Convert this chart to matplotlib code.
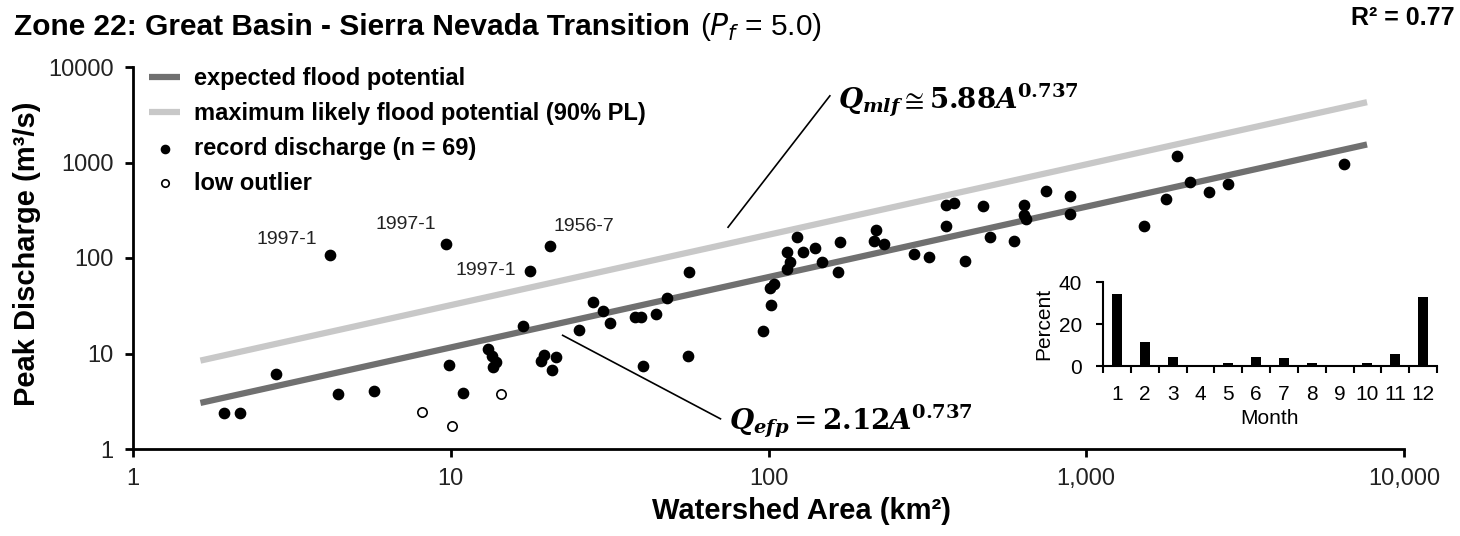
import numpy as np
import matplotlib.pyplot as plt
from matplotlib.ticker import FixedLocator, FixedFormatter, NullLocator

plt.rcParams['font.family'] = ['Liberation Sans', 'DejaVu Sans']

# record discharges
area_km2 = [1.93, 2.17, 2.82, 4.17, 4.43, 5.74, 9.64, 9.9, 10.9, 13.1, 13.5, 13.9, 13.6,
            17.8, 20.5, 16.9, 19.7, 19.3, 21.4, 20.9,
            25.4, 28.0, 30.1, 31.6, 37.9, 39.6, 44.4, 48.0, 40.3, 56.3, 56.0, 95.8, 102, 101, 104,
            114.5, 117, 114.5, 123, 128.5, 140, 147.6, 165, 167.6, 215, 218.5, 230.6, 287, 320,
            363, 363, 383, 415, 472, 499,
            591, 635, 635, 646, 749, 887, 887, 1525, 1785, 1929, 2124, 2431, 2790, 6488]
peak_m3s = [2.38, 2.38, 6.1, 107, 3.8, 4.08, 141, 7.6, 3.9, 11.1, 9.5, 8.1, 7.3,
            73.5, 135, 19.4, 9.76, 8.4, 9.1, 6.7,
            17.8, 34.4, 27.7, 21.0, 24.1, 24.1, 26.2, 37.9, 7.4, 70.7, 9.45, 17.2, 32.5, 48.7, 52.9,
            76.6, 90, 115, 166, 115, 127, 90.8, 71, 147, 152, 198.6, 140, 111, 101.6,
            217, 355, 377, 93, 350, 166,
            150, 355, 284, 255, 507, 442, 286, 217, 415, 1156, 621, 495, 591, 976]

outlier_area = [8.1, 10.1, 14.4]
outlier_peak = [2.45, 1.75, 3.8]

# labelled events: (area, peak, label)
event_area = [4.17, 9.64, 17.8, 20.5]
event_peak = [107, 141, 73.5, 135]
event_label = ['1997-1', '1997-1', '1997-1', '1956-7']

# envelope curves
coef_efp = 2.12
coef_mlf = 5.88
exponent = 0.737
curve_range = [1.63, 7650]

# monthly distribution (inset)
months = list(range(1, 13))
month_pct = [34.3, 11.3, 4.3, 0, 1.2, 4.4, 3.6, 1.2, 0, 1.2, 5.5, 33.0]

fig = plt.figure(figsize=(14.6, 5.36), dpi=100)
ax = fig.add_axes([133 / 1460, 1 - 449 / 536, 1271 / 1460, 382 / 536])

A = np.logspace(np.log10(curve_range[0]), np.log10(curve_range[1]), 100)
ax.plot(A, coef_efp * A ** exponent, color='#707070', lw=4.5, solid_capstyle='butt',
        label='expected flood potential', zorder=2)
ax.plot(A, coef_mlf * A ** exponent, color='#c8c8c8', lw=4.5, solid_capstyle='butt',
        label='maximum likely flood potential (90% PL)', zorder=2)
ax.scatter(area_km2, peak_m3s, s=55, color='black', zorder=3,
           label='record discharge (n = 69)')
ax.scatter(outlier_area, outlier_peak, s=45, facecolor='white', edgecolor='black',
           linewidth=1.2, zorder=3, label='low outlier')

ax.set_xscale('log')
ax.set_yscale('log')
ax.set_xlim(1, 10000)
ax.set_ylim(1, 10000)

xt = [1, 10, 100, 1000, 10000]
ax.xaxis.set_major_locator(FixedLocator(xt))
ax.xaxis.set_major_formatter(FixedFormatter(['1', '10', '100', '1,000', '10,000']))
ax.yaxis.set_major_locator(FixedLocator(xt))
ax.yaxis.set_major_formatter(FixedFormatter(['1', '10', '100', '1000', '10000']))
ax.xaxis.set_minor_locator(NullLocator())
ax.yaxis.set_minor_locator(NullLocator())
ax.tick_params(axis='both', direction='out', length=6, width=2, labelsize=17, pad=8,
               labelcolor='#222222')
for side in ['top', 'right']:
    ax.spines[side].set_visible(False)
for side in ['left', 'bottom']:
    ax.spines[side].set_linewidth(2)

ax.set_xlabel('Watershed Area (km²)', fontsize=21, fontweight='bold')
ax.set_ylabel('Peak Discharge (m³/s)', fontsize=21, fontweight='bold')
ax.xaxis.set_label_coords(0.526, -0.125)
ax.yaxis.set_label_coords(-0.072, 0.51)

leg = ax.legend(loc='upper left', bbox_to_anchor=(-0.004, 1.055), frameon=False, fontsize=17,
                handlelength=1.3, handletextpad=0.6, labelspacing=0.5, markerscale=0.8)
for t in leg.get_texts():
    t.set_fontweight('bold')

# event labels
offsets = [(-9, 11), (-7, 14), (-10, 0), (3, 14)]
for x, y, lab, off in zip(event_area, event_peak, event_label, offsets):
    ax.annotate(lab, (x, y), xytext=off, textcoords='offset points', fontsize=14,
                ha='left' if off[0] > 0 else 'right', va='center', color='#222222')

# equations with leader lines
ax.plot([74.6, 156], [210, 4990], color='black', lw=1.2)
ax.plot([22.5, 70.6], [15.5, 2.07], color='black', lw=1.2)
ax.text(165, 4400, r'$\mathbfit{Q}_{\mathbfit{mlf}}\cong\mathbf{5.88}\mathbfit{A}^{\mathbf{0.737}}$',
        fontsize=20, math_fontfamily='dejavuserif', va='center', ha='left')
ax.text(75, 1.95, r'$\mathbfit{Q}_{\mathbfit{efp}}=\mathbf{2.12}\mathbfit{A}^{\mathbf{0.737}}$',
        fontsize=20, math_fontfamily='dejavuserif', va='center', ha='left')

# title
fig.text(14 / 1460, 1 - 35 / 536, 'Zone 22: Great Basin - Sierra Nevada Transition',
         fontsize=21.5, fontweight='bold', ha='left', va='baseline')
fig.text(700 / 1460, 1 - 35 / 536, r'($P_f$ = 5.0)', fontsize=21.5, ha='left', va='baseline',
         math_fontfamily='dejavusans')
fig.text(1455 / 1460, 1 - 25 / 536, 'R² = 0.77', fontsize=18, fontweight='bold',
         ha='right', va='baseline')

# inset: month of record discharge
ins = fig.add_axes([1103 / 1460, 1 - 366 / 536, 334 / 1460, 84 / 536])
ins.bar(months, month_pct, width=0.36, color='black')
ins.set_xlim(0.5, 12.5)
ins.set_ylim(0, 40)
ins.set_yticks([0, 20, 40])
ins.set_xticks(months)
ins.set_xticks(np.arange(0.5, 13, 1), minor=True)
ins.tick_params(axis='x', which='major', length=0, labelsize=15, pad=14)
ins.tick_params(axis='x', which='minor', length=5, width=1.5, direction='out')
ins.tick_params(axis='y', length=5, width=1.5, labelsize=15, pad=10)
for side in ['top', 'right']:
    ins.spines[side].set_visible(False)
for side in ['left', 'bottom']:
    ins.spines[side].set_linewidth(1.5)
ins.set_xlabel('Month', fontsize=15, labelpad=3)
ins.set_ylabel('Percent', fontsize=15, labelpad=4)
ins.patch.set_alpha(0)

fig.savefig('out.png', dpi=100)
